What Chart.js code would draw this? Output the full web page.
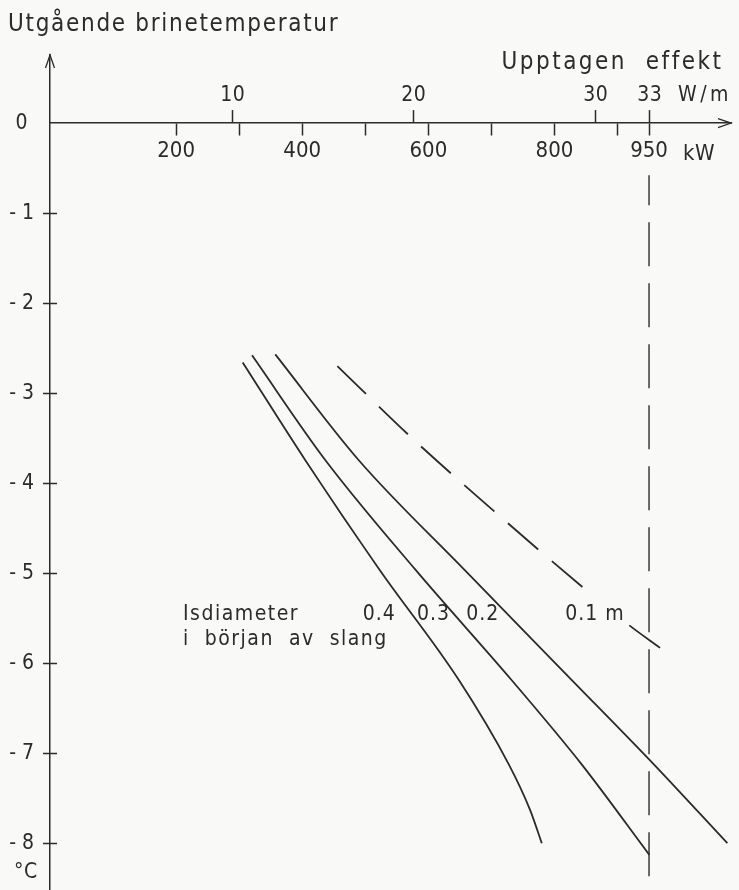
<!DOCTYPE html>
<html lang="sv">
<head>
<meta charset="utf-8">
<title>Utgående brinetemperatur</title>
<script src="https://cdn.jsdelivr.net/npm/chart.js@4.4.1/dist/chart.umd.min.js"></script>
<style>
    html, body { margin: 0; padding: 0; background: #f9f9f8; }
    #chart { display: block; }
</style>
</head>
<body>
<canvas id="chart" width="739" height="890"></canvas>
<script>
// Axis ticks: kW below the axis, W/m above it (33 W/m = 950 kW)
const kwTicks = [200, 300, 400, 500, 600, 700, 800, 900, 950];
const kwLabelled = [200, 400, 600, 800, 950];
const wmTicks = [10, 20, 30, 33];
const kwPerWm = 950 / 33;
const tempTicks = [0, -1, -2, -3, -4, -5, -6, -7, -8];

// Ice diameter at the start of the hose: 0.4, 0.3, 0.2 and 0.1 m
const d04Kw = [305.6, 404.4, 523.4, 648.7, 728.0, 761.3, 779.9];
const d04Temp = [-2.66, -3.74, -4.97, -6.19, -7.13, -7.63, -8.0];
const d03Kw = [320.4, 436.2, 580.5, 732.3, 843.8, 950.5];
const d03Temp = [-2.58, -3.74, -4.97, -6.19, -7.13, -8.13];
const d02Kw = [357.3, 489.0, 658.2, 827.9, 951.6, 1074.2];
const d02Temp = [-2.57, -3.74, -4.97, -6.19, -7.08, -8.0];
const d01Kw = [455.7, 575.7, 712.1, 852.2, 918.8, 967.5];
const d01Temp = [-2.70, -3.51, -4.36, -5.20, -5.58, -5.83];

// 950 kW limit line
const limitKw = [950, 950];
const limitTemp = [-0.58, -8.6];

const ink = '#2b2b2b';
const textFont = '"DejaVu Sans Condensed", "DejaVu Sans", sans-serif';

Chart.defaults.font.family = textFont;
Chart.defaults.color = ink;

function toPoints(xs, ys) {
    return xs.map((x, i) => ({ x: x, y: ys[i] }));
}

function curve(xs, ys) {
    return {
        data: toPoints(xs, ys),
        borderColor: ink,
        borderWidth: 1.8,
        pointRadius: 0,
        cubicInterpolationMode: 'monotone',
        fill: false
    };
}

function text(ctx, str, px, py, size, spacing, align) {
    ctx.font = size + 'px ' + textFont;
    ctx.letterSpacing = spacing + 'px';
    ctx.textAlign = align || 'left';
    ctx.textBaseline = 'alphabetic';
    // trailing letter spacing would push centred text to the left
    const shift = align === 'center' ? spacing / 2 : (align === 'right' ? spacing : 0);
    ctx.fillText(str, px + shift, py);
}

const sketchPlugin = {
    id: 'sketch',
    beforeDraw(chart) {
        const ctx = chart.ctx;
        ctx.save();
        ctx.fillStyle = '#f9f9f8';
        ctx.fillRect(0, 0, chart.width, chart.height);
        ctx.restore();
    },
    afterDraw(chart) {
        const ctx = chart.ctx;
        const xs = chart.scales.x;
        const ys = chart.scales.y;
        const area = chart.chartArea;
        const x0 = xs.getPixelForValue(0);
        const y0 = ys.getPixelForValue(0);

        ctx.save();
        ctx.strokeStyle = ink;
        ctx.fillStyle = ink;
        ctx.lineWidth = 1.5;
        ctx.lineCap = 'butt';

        // W/m ticks above the axis
        wmTicks.forEach(v => {
            const px = Math.round(xs.getPixelForValue(v * kwPerWm)) + 0.5;
            ctx.beginPath();
            ctx.moveTo(px, y0 - 13);
            ctx.lineTo(px, y0);
            ctx.stroke();
            text(ctx, String(v), px, y0 - 22.5, 21, 0.5, 'center');
        });
        text(ctx, 'W/m', xs.getPixelForValue(950) + 29, y0 - 22.5, 21, 3.5);
        text(ctx, 'kW', xs.getPixelForValue(950) + 34, y0 + 37, 22, 0.5);

        // temperature ticks cross the axis
        tempTicks.forEach(v => {
            if (v === 0) return;
            const py = Math.round(ys.getPixelForValue(v)) + 0.5;
            ctx.beginPath();
            ctx.moveTo(x0, py);
            ctx.lineTo(x0 + 7, py);
            ctx.stroke();
        });

        // arrow heads
        ctx.lineWidth = 1.3;
        ctx.beginPath();
        ctx.moveTo(x0 - 4.5, area.top + 13);
        ctx.lineTo(x0, area.top);
        ctx.lineTo(x0 + 4.5, area.top + 13);
        ctx.stroke();
        ctx.beginPath();
        ctx.moveTo(area.right - 13, y0 - 4.5);
        ctx.lineTo(area.right, y0);
        ctx.lineTo(area.right - 13, y0 + 4.5);
        ctx.stroke();

        // titles
        text(ctx, 'Utgående brinetemperatur', 8, 31, 24, 1.7);
        text(ctx, 'Upptagen  effekt', 721, 69, 24, 2.5, 'right');
        text(ctx, '°C', 14, ys.getPixelForValue(-8.3) + 8, 21, 0.5);

        // curve labels
        const labelRow = ys.getPixelForValue(-5.52);
        text(ctx, 'Isdiameter', xs.getPixelForValue(211), labelRow, 21, 1.5);
        text(ctx, 'i  början  av  slang', xs.getPixelForValue(211), ys.getPixelForValue(-5.8), 21, 1.5);
        text(ctx, '0.4', xs.getPixelForValue(496), labelRow, 21, 1);
        text(ctx, '0.3', xs.getPixelForValue(582), labelRow, 21, 1);
        text(ctx, '0.2', xs.getPixelForValue(660), labelRow, 21, 1);
        text(ctx, '0.1 m', xs.getPixelForValue(817), labelRow, 21, 1);

        ctx.restore();
    }
};

const gapAt = 3; // the 0.1 m line breaks around its label

const limitLine = {
    data: toPoints(limitKw, limitTemp),
    borderColor: '#3a3a3a',
    borderWidth: 1.5,
    borderDash: [44, 17],
    borderDashOffset: 14,
    pointRadius: 0,
    tension: 0,
    fill: false
};

const thinIce = curve(d01Kw, d01Temp);
thinIce.borderDash = [40, 18];
thinIce.segment = {
    borderColor: c => c.p0DataIndex === gapAt ? 'rgba(0,0,0,0)' : undefined
};

new Chart(document.getElementById('chart'), {
    type: 'line',
    data: {
        datasets: [
            curve(d04Kw, d04Temp),
            curve(d03Kw, d03Temp),
            curve(d02Kw, d02Temp),
            thinIce,
            limitLine
        ]
    },
    options: {
        responsive: false,
        devicePixelRatio: 1,
        animation: false,
        layout: { padding: { top: 55, right: 8, bottom: 0, left: 0 } },
        plugins: {
            legend: { display: false },
            tooltip: { enabled: false }
        },
        scales: {
            x: {
                type: 'linear',
                min: 0,
                max: 1080,
                position: { y: 0 },
                afterFit: axis => {
                    axis.height = 0;
                    axis.paddingLeft = 0;
                    axis.paddingRight = 0;
                },
                afterBuildTicks: axis => {
                    axis.ticks = kwTicks.map(v => ({ value: v }));
                },
                border: { display: true, color: ink, width: 1.5 },
                grid: {
                    drawOnChartArea: false,
                    drawTicks: true,
                    tickLength: 12,
                    tickColor: ink,
                    tickWidth: 1.5
                },
                ticks: {
                    autoSkip: false,
                    maxRotation: 0,
                    padding: 3,
                    color: ink,
                    font: { size: 22 },
                    callback: v => kwLabelled.includes(v) ? String(v) : ''
                }
            },
            y: {
                type: 'linear',
                min: -8.52,
                max: 0.756,
                position: 'left',
                afterFit: axis => {
                    // the axis runs to the canvas edge; no room kept for end labels
                    axis.width = 50;
                    axis.paddingTop = 0;
                    axis.paddingBottom = 0;
                },
                afterBuildTicks: axis => {
                    axis.ticks = tempTicks.map(v => ({ value: v }));
                },
                border: { display: true, color: ink, width: 1.5 },
                grid: {
                    drawOnChartArea: false,
                    drawTicks: true,
                    tickLength: 7,
                    tickWidth: 1.5,
                    tickColor: c => c.tick && c.tick.value === 0 ? 'rgba(0,0,0,0)' : ink
                },
                ticks: {
                    crossAlign: 'center',
                    padding: 9,
                    color: ink,
                    font: { size: 21 },
                    callback: v => v === 0 ? '0' : '- ' + Math.abs(v)
                }
            }
        }
    },
    plugins: [sketchPlugin]
});
</script>
</body>
</html>
